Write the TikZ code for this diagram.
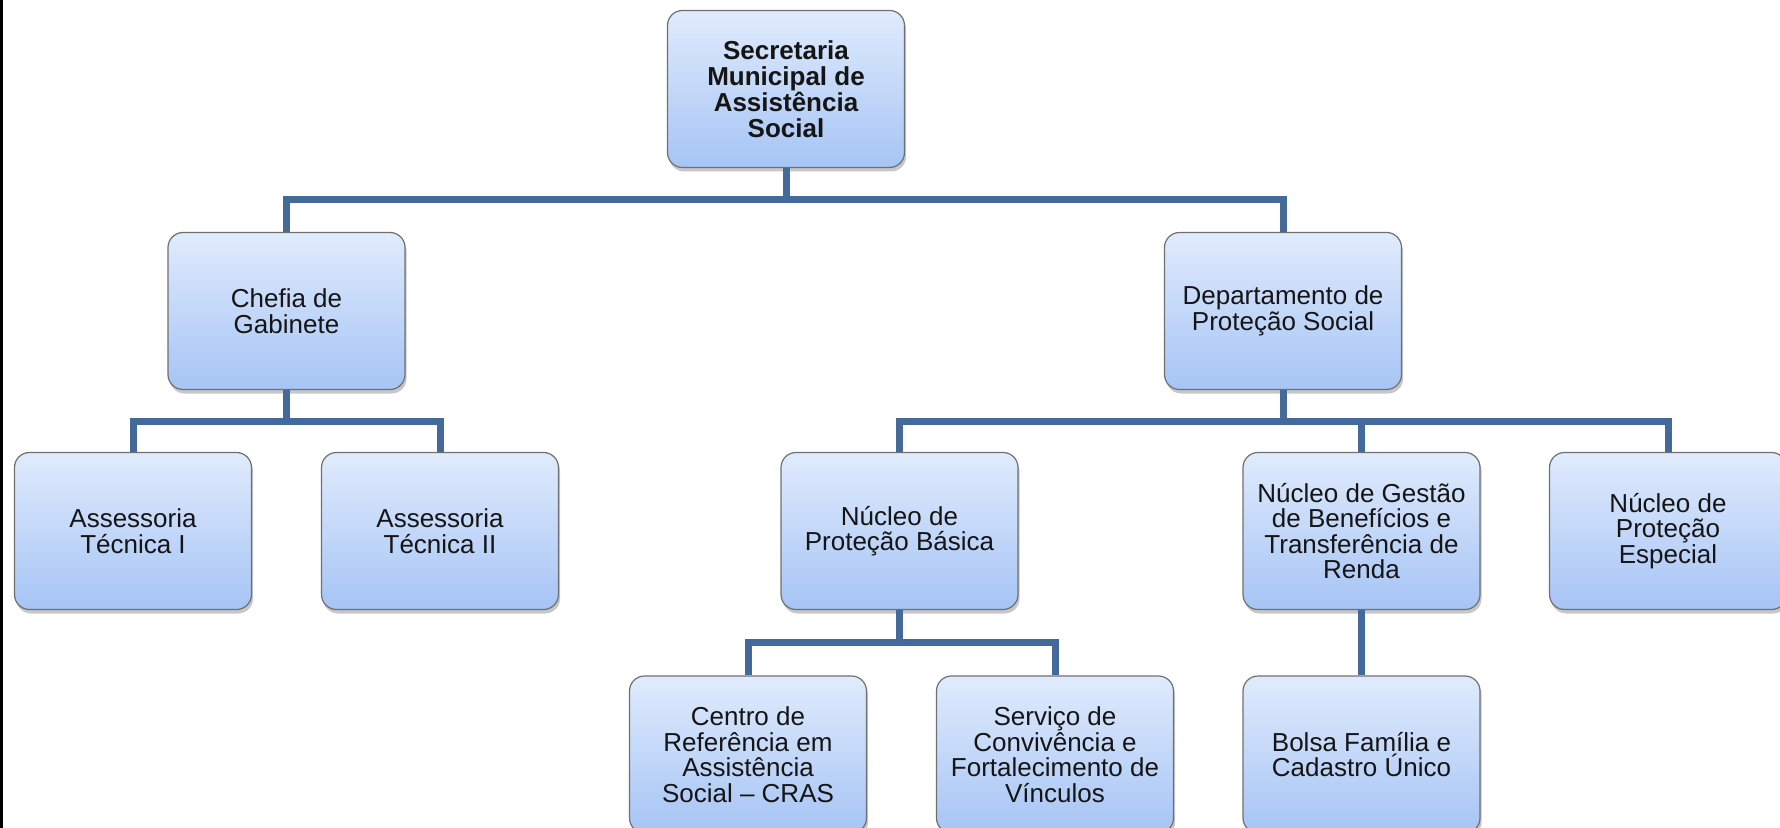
\documentclass[tikz,border=0pt]{standalone}
\usepackage{fontspec}
\setmainfont{Liberation Sans}
\usetikzlibrary{shadows}
\definecolor{conncol}{HTML}{44699B}
\definecolor{boxtop}{HTML}{E0EBFD}
\definecolor{boxbot}{HTML}{A6C4F5}
\definecolor{boxedge}{HTML}{707070}
\definecolor{txtcol}{HTML}{151515}
\tikzset{
  orgbox/.style={draw=boxedge, line width=0.6pt, rounded corners=7.5pt,
    top color=boxtop, bottom color=boxbot,
    minimum width=118.5pt, minimum height=78.5pt, inner sep=2pt,
    align=center, text=txtcol,
    font=\fontsize{13pt}{12.8pt}\selectfont,
    drop shadow={shadow xshift=0.8pt, shadow yshift=-2pt, opacity=0.22, fill=black}},
  headbox/.style={orgbox, font=\fontsize{13pt}{13pt}\selectfont\bfseries},
  conn/.style={draw=conncol, line width=3.5pt}
}
\begin{document}
\begin{tikzpicture}[x=0.5pt,y=-0.5pt]
\clip (0,0) rectangle (1780,828);
\fill[white] (0,0) rectangle (1780,828);
\fill[black] (0,0) rectangle (3,828);
% bar levels
\coordinate (b1) at (0,200);
\coordinate (b2) at (0,421);
\coordinate (b3) at (0,642);
% nodes
\node[headbox] (top) at (786,89) {Secretaria\\Municipal de\\Assistência\\Social};
\node[orgbox] (chefia) at (286.5,311) {Chefia de\\Gabinete};
\node[orgbox] (dept) at (1283,311) {Departamento de\\Proteção Social};
\node[orgbox] (ass1) at (133,531) {Assessoria\\Técnica I};
\node[orgbox] (ass2) at (440,531) {Assessoria\\Técnica II};
\node[orgbox] (basica) at (899.5,531) {Núcleo de\\Proteção Básica};
\node[orgbox] (gestao) at (1361.5,531) {Núcleo de Gestão\\de Benefícios e\\Transferência de\\Renda};
\node[orgbox] (especial) at (1668,531) {Núcleo de\\Proteção\\Especial};
\node[orgbox] (cras) at (748,754.5) {Centro de\\Referência em\\Assistência\\Social – CRAS};
\node[orgbox] (servico) at (1055,754.5) {Serviço de\\Convivência e\\Fortalecimento de\\Vínculos};
\node[orgbox] (bolsa) at (1361.5,754.5) {Bolsa Família e\\Cadastro Único};
% connectors
\draw[conn] (top.south) -- (top.south |- b1) -| (chefia.north);
\draw[conn] (top.south) -- (top.south |- b1) -| (dept.north);
\draw[conn] (chefia.south) -- (chefia.south |- b2) -| (ass1.north);
\draw[conn] (chefia.south) -- (chefia.south |- b2) -| (ass2.north);
\draw[conn] (dept.south) -- (dept.south |- b2) -| (basica.north);
\draw[conn] (dept.south) -- (dept.south |- b2) -| (gestao.north);
\draw[conn] (dept.south) -- (dept.south |- b2) -| (especial.north);
\draw[conn] (basica.south) -- (basica.south |- b3) -| (cras.north);
\draw[conn] (basica.south) -- (basica.south |- b3) -| (servico.north);
\draw[conn] (gestao.south) -- (bolsa.north);
\end{tikzpicture}
\end{document}
